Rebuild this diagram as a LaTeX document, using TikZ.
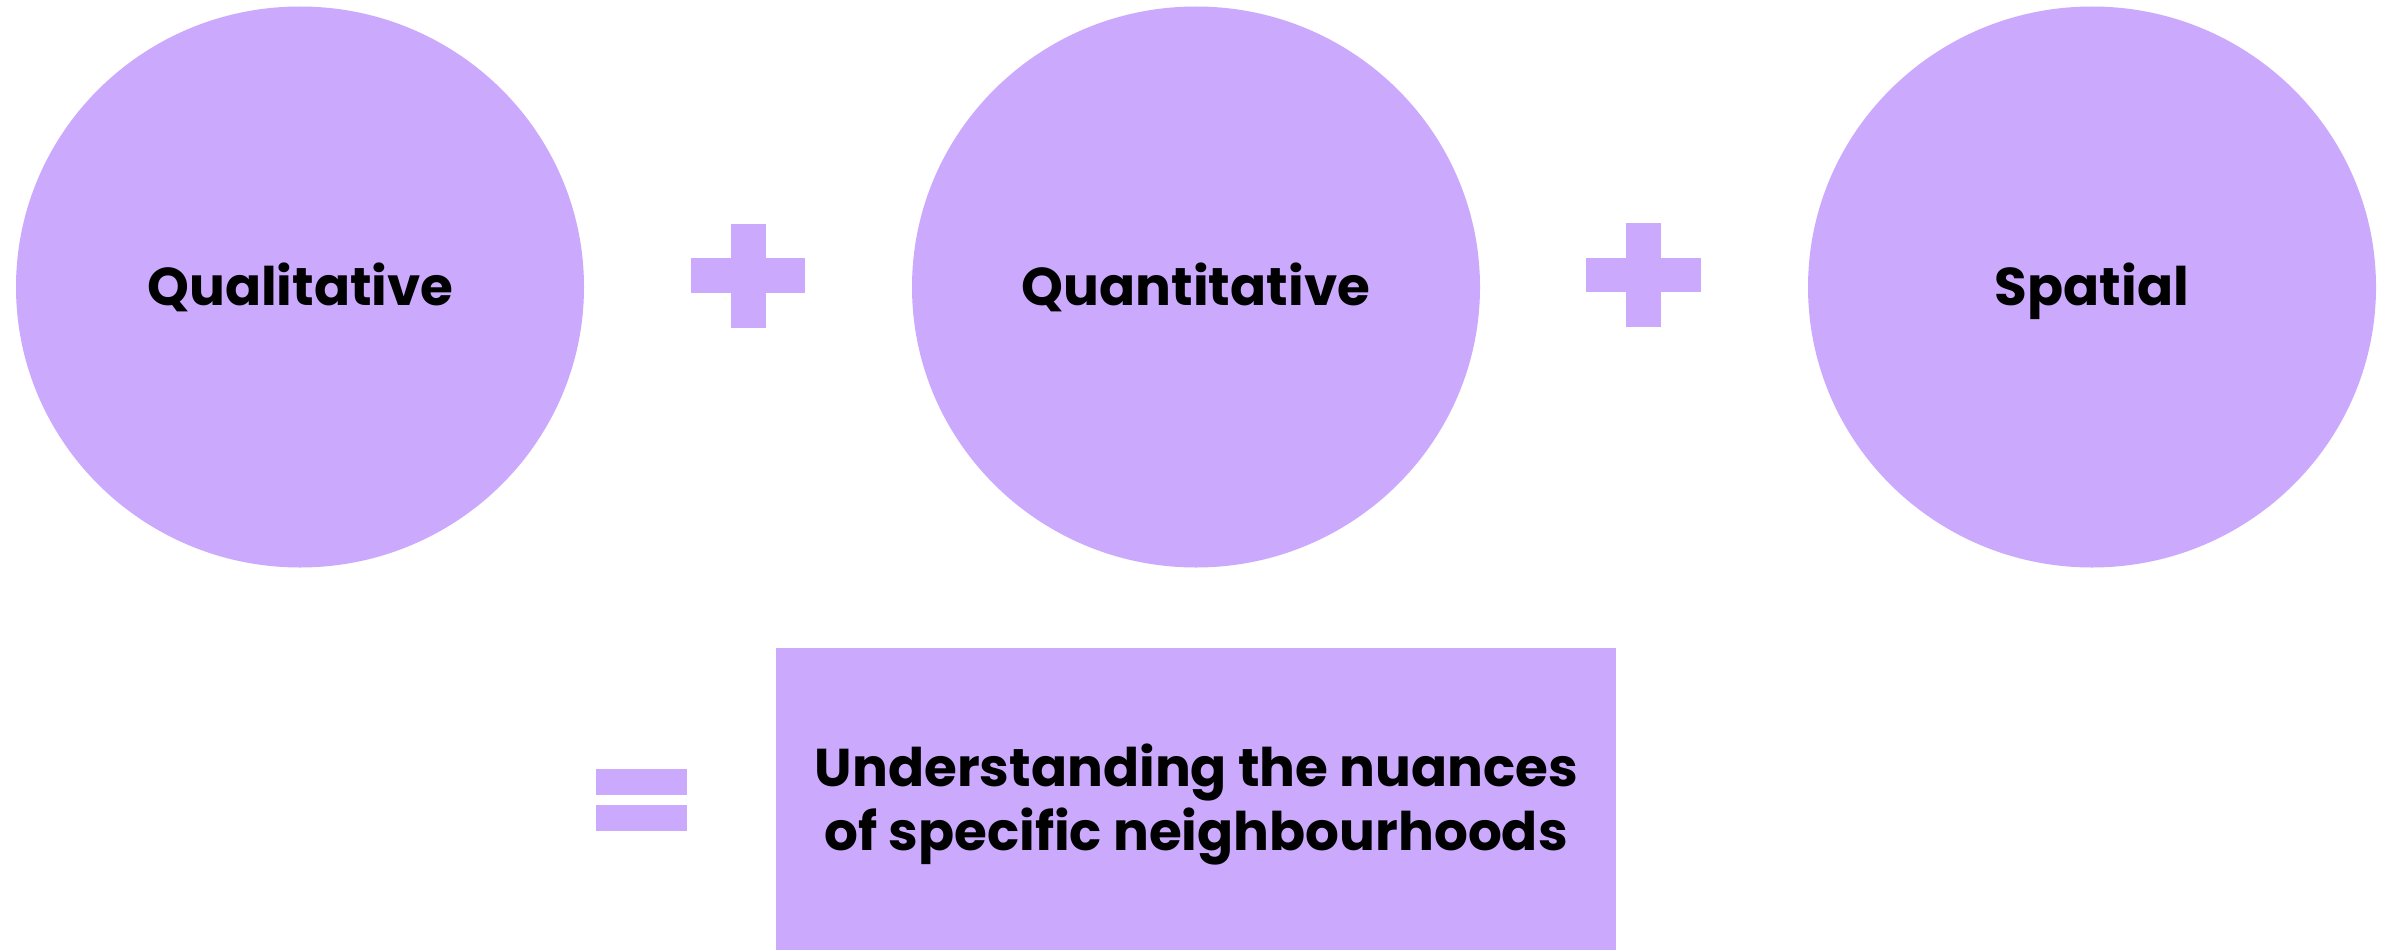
\documentclass[tikz,border=0pt]{standalone}
\usepackage{fontspec}
\setmainfont{Poppins}
\usetikzlibrary{shapes.geometric}
\definecolor{lav}{HTML}{CBAAFD}
\tikzset{
  blob/.style={ellipse, fill=lav, draw=none, inner sep=0pt, minimum width=568pt, minimum height=561pt},
  lbl/.style={anchor=base, inner sep=0pt, font=\fontsize{53.2}{64}\selectfont\bfseries, text=black},
  bar/.style={fill=lav, draw=none, inner sep=0pt, anchor=north west}
}
\begin{document}
\begin{tikzpicture}[x=1pt,y=-1pt]
\useasboundingbox[fill=white] (0,0) rectangle (2389,950);
% circles
\node[blob] (c1) at (300,287) {};
\node[blob] (c2) at (1196,287) {};
\node[blob] (c3) at (2092,287) {};
\node[lbl] (t1) at (300.5,305) {Qualitative};
\node[lbl] (t2) at (1196,305) {Quantitative};
\node[lbl] (t3) at (2092,305) {Spatial};
% plus signs
\node[bar, minimum width=114pt, minimum height=35pt] (p1h) at (691,258) {};
\node[bar, minimum width=35pt, minimum height=104pt] (p1v) at (731,224) {};
\node[bar, minimum width=115pt, minimum height=34pt] (p2h) at (1586,258) {};
\node[bar, minimum width=35pt, minimum height=104pt] (p2v) at (1626,223) {};
% equals
\node[bar, minimum width=91pt, minimum height=26pt] (e1) at (596,769) {};
\node[bar, minimum width=91pt, minimum height=26pt] (e2) at (596,805) {};
% result box
\node[bar, minimum width=840pt, minimum height=302pt] (box) at (776,648) {};
\node[lbl] (r1) at (1196.5,786) {Understanding the nuances};
\node[lbl] (r2) at (1196,850) {of specific neighbourhoods};
\end{tikzpicture}
\end{document}
